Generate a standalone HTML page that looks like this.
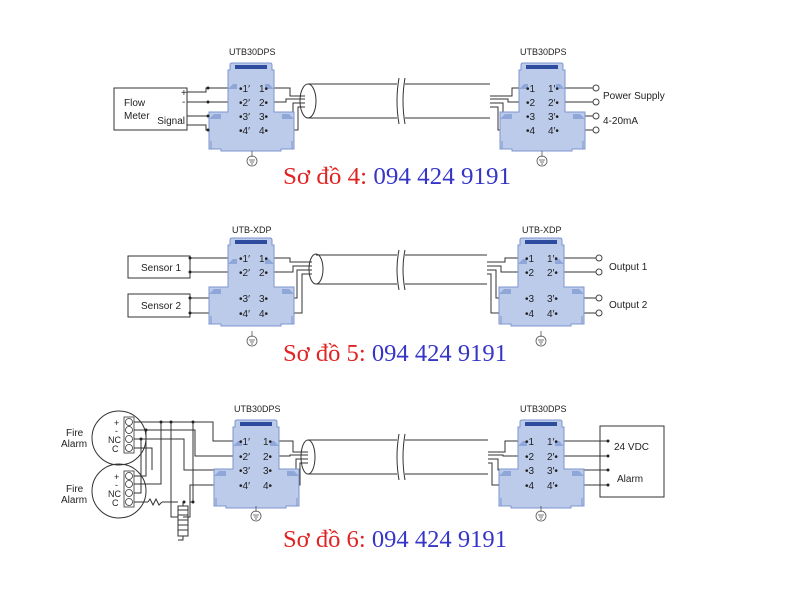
<!DOCTYPE html>
<html><head><meta charset="utf-8"><style>
html,body{margin:0;padding:0;background:#fff;}
svg{display:block;font-family:"Liberation Sans",sans-serif;}
.cap{font-family:"Liberation Serif",serif;font-size:24px;}
</style></head><body>
<svg width="800" height="600" viewBox="0 0 800 600" xmlns="http://www.w3.org/2000/svg">
<defs>
<g id="dev">
<path d="M-23,7 L-21,7 L-21,2 Q-21,0 -19,0 L19,0 Q21,0 21,2 L21,7 L23,7 L23,49 L43,49 L43,86 L30,86 L30,88 L-30,88 L-30,86 L-42,86 L-42,49 L-23,49 Z" fill="#bccbea" stroke="#7d96cf" stroke-width="1"/>
<rect x="-16" y="2" width="32" height="4" fill="#2d4c9e"/>
<path d="M-23,26 L-18,21 L-14,21 L-14,26 Z M23,26 L18,21 L14,21 L14,26 Z M-42,56 L-37,51 L-30,51 L-30,56 Z M43,56 L38,51 L31,51 L31,56 Z" fill="#8ea6d8"/>
<path d="M-40,78 L-40,86 M41,78 L41,86" stroke="#7d96cf"/>
</g>
<g id="gnd" fill="none" stroke="#555" stroke-width="0.8">
<line x1="0" y1="-6" x2="0" y2="0"/><circle cx="0" cy="4" r="5"/>
<line x1="-3" y1="3" x2="3" y2="3"/><line x1="-2" y1="5" x2="2" y2="5"/><line x1="-1" y1="7" x2="1" y2="7"/>
</g>
</defs>

<g stroke="#333" stroke-width="1" fill="none">
<rect x="114" y="88" width="73" height="42"/>
<path d="M187,92 H206 V88 H230 M187,102 H230 M187,116 H230 M187,125 H206 V130 H230"/>
<path d="M273,88 H290 V96 H305 M273,102 H286 V99 H305 M273,116 H293 V103 H305 M273,130 H298 V107 H305"/>
<path d="M308,84 H397 M308,118 H397 M405,84 H490 M405,118 H490"/>
<ellipse cx="308" cy="101" rx="8" ry="17"/>
<path d="M490,96 H512 V88 H530 M490,99 H508 V102 H530 M490,103 H503 V116 H530 M490,107 H498 V130 H510"/>
<path d="M552,88 H593 M552,102 H593 M552,116 H593 M552,130 H593"/>
<rect x="128" y="256" width="62" height="22"/>
<rect x="128" y="294" width="62" height="23"/>
<path d="M190,258 H230 M190,272 H230 M190,298 H230 M190,313 H230"/>
<path d="M273,258 H290 V262 H312 M273,272 H293 V266 H312 M273,298 H297 V270 H312 M273,313 H302 V274 H312"/>
<path d="M316,255 H397 M316,284 H397 M405,255 H487 M405,284 H487"/>
<ellipse cx="316" cy="269" rx="7" ry="15"/>
<path d="M487,262 H505 V258 H530 M487,266 H501 V272 H530 M487,270 H496 V298 H530 M487,274 H491 V313 H530"/>
<path d="M552,258 H596 M552,272 H596 M552,298 H596 M552,313 H596"/>
<circle cx="119" cy="438" r="27"/>
<circle cx="119" cy="491" r="27"/>
<path d="M134,422 H213 V441 H235 M134,430 H195 V456 H235 M134,439 H184 V470 H235 M134,448 H152 V470 M134,476 H146 V430 M134,484 H161 V422 M134,493 H141 V439 M134,502 H148 M162,502 H178 M190,502 H193 V422 M171,422 V517 H178 M183,517 H190 V485 H235"/>
<path d="M148,502 l2,-3 l3,6 l3,-6 l3,6 l3,-3" />
<rect x="178" y="506" width="10" height="30"/>
<path d="M178,510 h10 M178,515 h10 M178,520 h10 M178,525 h10 M178,530 h10"/>
<path d="M183,536 V540 H178 M183,506 V502"/>
<path d="M278,441 H293 V452 H308 M278,456 H290 V455 H308 M278,470 H296 V459 H308 M278,485 H300 V463 H308"/>
<path d="M308,440 H397 M308,474 H397 M405,440 H488 M405,474 H488"/>
<ellipse cx="308" cy="457" rx="7" ry="17"/>
<path d="M488,452 H505 V441 H530 M488,455 H503 V456 H530 M488,459 H498 V470 H530 M488,463 H492 V485 H530"/>
<rect x="600" y="426" width="64" height="71"/>
<path d="M559,441 H608 M559,456 H608 M559,470 H608 M559,485 H608"/>
</g>

<g stroke="#333" fill="none">
<path d="M399,78 Q395,101 399,124 M405,78 Q401,101 405,124"/>
<path d="M399,250 Q395,269 399,290 M405,250 Q401,269 405,290"/>
<path d="M399,434 Q395,457 399,480 M405,434 Q401,457 405,480"/>
</g>

<use href="#dev" x="251" y="63"/><use href="#dev" x="542" y="63"/>
<use href="#dev" x="251" y="238"/><use href="#dev" x="541" y="238"/>
<use href="#dev" x="256" y="420"/><use href="#dev" x="541" y="420"/>
<use href="#gnd" x="252" y="157"/><use href="#gnd" x="542" y="157"/>
<use href="#gnd" x="252" y="337"/><use href="#gnd" x="541" y="337"/>
<use href="#gnd" x="256" y="512"/><use href="#gnd" x="541" y="512"/>

<g fill="#fff" stroke="#444">
<circle cx="596" cy="88" r="3"/><circle cx="596" cy="102" r="3"/><circle cx="596" cy="116" r="3"/><circle cx="596" cy="130" r="3"/>
<circle cx="599" cy="258" r="3"/><circle cx="599" cy="272" r="3"/><circle cx="599" cy="298" r="3"/><circle cx="599" cy="313" r="3"/>
</g>
<g fill="#fff" stroke="#333" stroke-width="0.8">
<rect x="124" y="417" width="10" height="36"/><rect x="124" y="471" width="10" height="36"/>
<circle cx="129" cy="422" r="3.5"/><circle cx="129" cy="430" r="3.5"/><circle cx="129" cy="439" r="3.5"/><circle cx="129" cy="448" r="3.5"/>
<circle cx="129" cy="476" r="3.5"/><circle cx="129" cy="484" r="3.5"/><circle cx="129" cy="493" r="3.5"/><circle cx="129" cy="502" r="3.5"/>
</g>
<g fill="#222">
<circle cx="171" cy="422" r="1.5"/><circle cx="161" cy="422" r="1.5"/><circle cx="193" cy="422" r="1.5"/><circle cx="146" cy="430" r="1.5"/><circle cx="184" cy="502" r="1.5"/><circle cx="193" cy="502" r="1.5"/><circle cx="141" cy="439" r="1.5"/>
<circle cx="208" cy="88" r="1.5"/><circle cx="208" cy="102" r="1.5"/><circle cx="208" cy="116" r="1.5"/><circle cx="208" cy="130" r="1.5"/>
<circle cx="190" cy="258" r="1.5"/><circle cx="190" cy="272" r="1.5"/><circle cx="190" cy="298" r="1.5"/><circle cx="190" cy="313" r="1.5"/>
<circle cx="608" cy="441" r="1.5"/><circle cx="608" cy="456" r="1.5"/><circle cx="608" cy="470" r="1.5"/><circle cx="608" cy="485" r="1.5"/>
</g>

<g font-size="10" fill="#222">
<text x="229" y="55" font-size="9">UTB30DPS</text><text x="520" y="55" font-size="9">UTB30DPS</text>
<text x="232" y="233" font-size="9">UTB-XDP</text><text x="522" y="233" font-size="9">UTB-XDP</text>
<text x="234" y="412" font-size="9">UTB30DPS</text><text x="520" y="412" font-size="9">UTB30DPS</text>
<text x="124" y="106">Flow</text><text x="124" y="119">Meter</text>
<text x="181" y="96">+</text><text x="182" y="105">-</text><text x="185" y="124" text-anchor="end">Signal</text>
<text x="603" y="99">Power Supply</text><text x="603" y="124">4-20mA</text>
<text x="141" y="271">Sensor 1</text><text x="141" y="309">Sensor 2</text>
<text x="609" y="270">Output 1</text><text x="609" y="308">Output 2</text>
<text x="66" y="436">Fire</text><text x="61" y="447">Alarm</text>
<text x="66" y="492">Fire</text><text x="61" y="503">Alarm</text>
<text x="114" y="426" font-size="9">+</text><text x="115" y="434" font-size="9">-</text><text x="108" y="443" font-size="9">NC</text><text x="112" y="452" font-size="9">C</text>
<text x="114" y="480" font-size="9">+</text><text x="115" y="488" font-size="9">-</text><text x="108" y="497" font-size="9">NC</text><text x="112" y="506" font-size="9">C</text>
<text x="614" y="450">24 VDC</text><text x="617" y="482">Alarm</text>
</g>

<g font-size="10" fill="#222">
<g transform="translate(251,63)"><text x="-12" y="29">•1′</text><text x="-12" y="43">•2′</text><text x="-12" y="57">•3′</text><text x="-12" y="71">•4′</text><text x="8" y="29">1•</text><text x="8" y="43">2•</text><text x="8" y="57">3•</text><text x="8" y="71">4•</text></g>
<g transform="translate(542,63)"><text x="-16" y="29">•1</text><text x="-16" y="43">•2</text><text x="-16" y="57">•3</text><text x="-16" y="71">•4</text><text x="6" y="29">1′•</text><text x="6" y="43">2′•</text><text x="6" y="57">3′•</text><text x="6" y="71">4′•</text></g>
<g transform="translate(251,238)"><text x="-12" y="24">•1′</text><text x="-12" y="38">•2′</text><text x="-12" y="64">•3′</text><text x="-12" y="79">•4′</text><text x="8" y="24">1•</text><text x="8" y="38">2•</text><text x="8" y="64">3•</text><text x="8" y="79">4•</text></g>
<g transform="translate(541,238)"><text x="-16" y="24">•1</text><text x="-16" y="38">•2</text><text x="-16" y="64">•3</text><text x="-16" y="79">•4</text><text x="6" y="24">1′•</text><text x="6" y="38">2′•</text><text x="6" y="64">3′•</text><text x="6" y="79">4′•</text></g>
<g transform="translate(256,420)"><text x="-17" y="25">•1′</text><text x="-17" y="40">•2′</text><text x="-17" y="54">•3′</text><text x="-17" y="69">•4′</text><text x="7" y="25">1•</text><text x="7" y="40">2•</text><text x="7" y="54">3•</text><text x="7" y="69">4•</text></g>
<g transform="translate(541,420)"><text x="-16" y="25">•1</text><text x="-16" y="40">•2</text><text x="-16" y="54">•3</text><text x="-16" y="69">•4</text><text x="6" y="25">1′•</text><text x="6" y="40">2′•</text><text x="6" y="54">3′•</text><text x="6" y="69">4′•</text></g>
</g>

<text class="cap" x="283" y="184" textLength="228" lengthAdjust="spacingAndGlyphs"><tspan fill="#e02424">Sơ đồ 4: </tspan><tspan fill="#3535c8">094 424 9191</tspan></text>
<text class="cap" x="283" y="361" textLength="224" lengthAdjust="spacingAndGlyphs"><tspan fill="#e02424">Sơ đồ 5: </tspan><tspan fill="#3535c8">094 424 9191</tspan></text>
<text class="cap" x="283" y="547" textLength="224" lengthAdjust="spacingAndGlyphs"><tspan fill="#e02424">Sơ đồ 6: </tspan><tspan fill="#3535c8">094 424 9191</tspan></text>
</svg>
</body></html>
